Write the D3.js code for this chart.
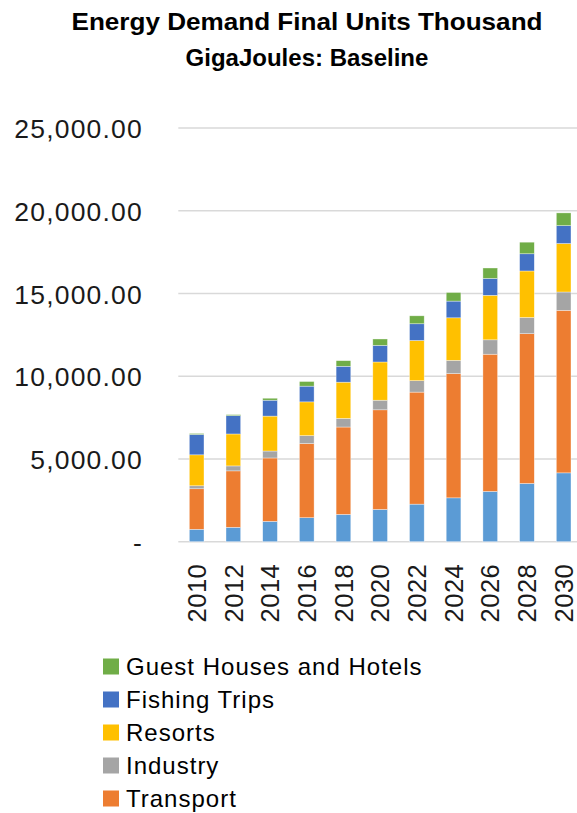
<!DOCTYPE html>
<html>
<head>
<meta charset="utf-8">
<script src="https://cdn.jsdelivr.net/npm/d3@7"></script>
<style>
  html, body { margin: 0; padding: 0; background: #fff; }
  svg { display: block; font-family: "Liberation Sans", Arial, sans-serif; }
</style>
</head>
<body>
<svg id="chart" width="577" height="813"></svg>
<script>
const years = ["2010","2012","2014","2016","2018","2020","2022","2024","2026","2028","2030"];
const seriesNames = ["Households", "Transport", "Industry", "Resorts", "Fishing Trips", "Guest Houses and Hotels"];
const households = [750, 870, 1230, 1450, 1650, 1950, 2270, 2650, 3040, 3520, 4160];
const transport  = [2450, 3410, 3830, 4480, 5280, 6020, 6770, 7510, 8290, 9050, 9820];
const industry   = [180, 300, 420, 480, 520, 580, 690, 800, 870, 980, 1110];
const resorts    = [1870, 1930, 2110, 2040, 2190, 2310, 2430, 2570, 2690, 2810, 2930];
const fishing    = [1230, 1110, 960, 950, 960, 1000, 1010, 1010, 1020, 1040, 1080];
const guest      = [60, 60, 120, 280, 340, 390, 480, 520, 630, 700, 770];
const yTicks = [0, 5000, 10000, 15000, 20000, 25000];
const colors = ["#5B9BD5", "#ED7D31", "#A5A5A5", "#FFC000", "#4472C4", "#70AD47"];
const titleLines = ["Energy Demand Final Units Thousand", "GigaJoules: Baseline"];
const legendShown = ["Guest Houses and Hotels", "Fishing Trips", "Resorts", "Industry", "Transport"];

const seriesValues = [households, transport, industry, resorts, fishing, guest];
const rows = years.map((y, i) => {
  const r = { year: y };
  seriesNames.forEach((s, k) => r[s] = seriesValues[k][i]);
  return r;
});

const svg = d3.select("#chart");
const x = d3.scaleBand().domain(years).range([178.3, 582]).paddingInner(0.6).paddingOuter(0.3);
const y = d3.scaleLinear().domain([0, 25000]).range([541.7, 128]);

// gridlines
svg.append("g").selectAll("line").data(yTicks).join("line")
  .attr("x1", 178.3).attr("x2", 582)
  .attr("y1", d => y(d)).attr("y2", d => y(d))
  .attr("stroke", "#d9d9d9").attr("stroke-width", 1.4);

// y axis labels
const yAxis = d3.axisLeft(y).tickValues(yTicks)
  .tickFormat(d => d === 0 ? "-" : d3.format(",.2f")(d)).tickSize(0).tickPadding(0);
const gy = svg.append("g").attr("transform", "translate(143,0)").call(yAxis);
gy.select(".domain").remove();
gy.selectAll("text").attr("font-size", 26.5).attr("fill", "#1a1a1a")
  .attr("font-family", "'Liberation Sans', Arial, sans-serif")
  .attr("letter-spacing", 1.2)
  .attr("dy", "0.36em");

// stacked bars
const stack = d3.stack().keys(seriesNames)(rows);
svg.append("g").selectAll("g").data(stack).join("g")
  .attr("fill", (d, i) => colors[i])
  .selectAll("rect").data(d => d).join("rect")
  .attr("x", d => x(d.data.year))
  .attr("width", x.bandwidth())
  .attr("y", d => y(d[1]))
  .attr("height", d => y(d[0]) - y(d[1]))
  .attr("stroke", "#ffffff").attr("stroke-opacity", 0.6).attr("stroke-width", 0.6);

// x axis labels (rotated)
const xAxis = d3.axisBottom(x).tickSize(0).tickPadding(0);
const gx = svg.append("g").attr("transform", "translate(0,541.7)").call(xAxis);
gx.select(".domain").remove();
gx.selectAll("text")
  .attr("font-size", 25.5).attr("fill", "#1a1a1a")
  .attr("font-family", "'Liberation Sans', Arial, sans-serif")
  .attr("letter-spacing", 0.5)
  .attr("text-anchor", "end")
  .attr("transform", "translate(0,22) rotate(-90)")
  .attr("x", 0).attr("y", 0).attr("dy", "0.36em");

// title
const titleSel = svg.append("g").selectAll("text").data(titleLines).join("text")
  .attr("x", 307).attr("y", (d, i) => 30 + i * 36)
  .attr("text-anchor", "middle")
  .attr("font-size", 24).attr("font-weight", "bold").attr("fill", "#000")
  .text(d => d);
titleSel.filter((d, i) => i === 0)
  .attr("textLength", 471).attr("lengthAdjust", "spacingAndGlyphs");

// legend
const lg = svg.append("g").selectAll("g").data(legendShown).join("g")
  .attr("transform", (d, i) => `translate(103,${666.5 + i * 33})`);
lg.append("rect").attr("x", 0).attr("y", -8).attr("width", 16).attr("height", 16)
  .attr("fill", d => colors[seriesNames.indexOf(d)]);
lg.append("text").attr("x", 23).attr("y", 0).attr("dy", "0.36em")
  .attr("font-size", 24).attr("letter-spacing", 1).attr("fill", "#000").text(d => d);
</script>
</body>
</html>
